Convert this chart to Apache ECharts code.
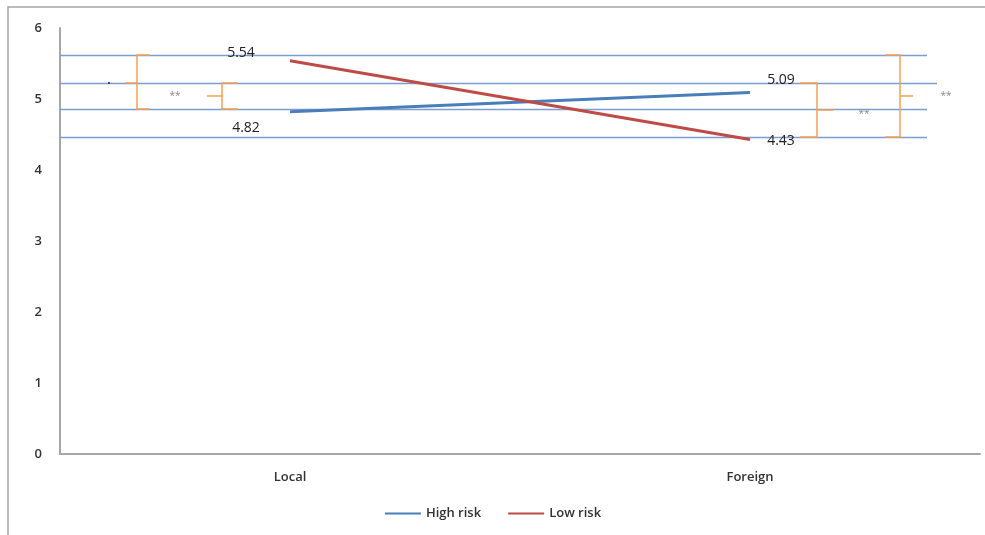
<!DOCTYPE html>
<html>
<head>
<meta charset="utf-8">
<script src="https://cdn.jsdelivr.net/npm/echarts@6/dist/echarts.min.js"></script>
<style>html,body{margin:0;padding:0;background:#fff;}#c{width:985px;height:535px;}</style>
</head>
<body>
<div id="c"></div>
<script>
var categories = ['Local', 'Foreign'];
var highRisk = [4.82, 5.09];
var lowRisk = [5.54, 4.43];
var yTicks = [0, 1, 2, 3, 4, 5, 6];
var refLines = [5.62, 5.225, 4.86, 4.465];
var labelOffsetsHigh = [[-44, 16], [31, -13]];
var labelOffsetsLow = [[-49, -8], [31, 2]];

var chart = echarts.init(document.getElementById('c'));
var font = 'Open Sans';
function mkData(vals, offs) {
  return vals.map(function (v, i) {
    return { value: v, label: { offset: offs[i] } };
  });
}
chart.setOption({
  animation: false,
  backgroundColor: '#fff',
  grid: { left: 60, right: 5, top: 28, bottom: 81, containLabel: false },
  xAxis: {
    type: 'category', data: categories, boundaryGap: true,
    axisLine: { lineStyle: { color: '#a6a6a6', width: 2 } },
    axisTick: { show: false },
    axisLabel: { color: '#333', fontFamily: font, fontSize: 13, fontWeight: 600, margin: 17 }
  },
  yAxis: {
    type: 'value', min: yTicks[0], max: yTicks[yTicks.length - 1], interval: 1,
    axisLine: { show: true, lineStyle: { color: '#a6a6a6', width: 2 } },
    axisTick: { show: false },
    splitLine: { show: false },
    axisLabel: { color: '#333', fontFamily: font, fontSize: 13, fontWeight: 600, margin: 18 }
  },
  legend: {
    bottom: 10, left: 'center', itemWidth: 36, itemHeight: 3, itemGap: 26,
    itemStyle: { opacity: 0 },
    textStyle: { color: '#333', fontFamily: font, fontSize: 13, fontWeight: 600 },
    data: ['High risk', 'Low risk']
  },
  series: [
    {
      name: 'High risk', type: 'line', data: mkData(highRisk, labelOffsetsHigh),
      symbol: 'circle', symbolSize: 0.1, color: '#4a7ebb',
      lineStyle: { width: 3, color: '#4a7ebb' },
      label: { show: true, position: 'inside', color: '#222', fontFamily: font, fontSize: 14 }
    },
    {
      name: 'Low risk', type: 'line', data: mkData(lowRisk, labelOffsetsLow),
      symbol: 'circle', symbolSize: 0.1, color: '#be4b48',
      lineStyle: { width: 3, color: '#be4b48' },
      label: { show: true, position: 'inside', color: '#222', fontFamily: font, fontSize: 14 }
    }
  ]
});

function py(v) { return chart.convertToPixel({ yAxisIndex: 0 }, v); }
var orange = '#f7a054';
var g = [];
g.push({ type: 'rect', shape: { x: 8, y: 7, width: 1000, height: 600 }, style: { fill: 'none', stroke: '#a6a6a6', lineWidth: 1.5 }, z: 1 });
var refExt = [927, 937, 927, 927];
refLines.forEach(function (v, i) {
  var y = Math.round(py(v)) + 0.5;
  g.push({ type: 'line', shape: { x1: 60, y1: y, x2: refExt[i], y2: y }, style: { stroke: '#7d9dcf', lineWidth: 1.3 }, z: 2 });
});
function brace(x, vTop, vBot, yMid, dir, arm, ptr) {
  var y1 = py(vTop), y2 = py(vBot);
  g.push({ type: 'polyline', shape: { points: [[x - dir * arm, y1], [x, y1], [x, y2], [x - dir * arm, y2]] },
    style: { fill: null, stroke: orange, lineWidth: 1.5 }, z: 3 });
  g.push({ type: 'line', shape: { x1: x, y1: yMid, x2: x + dir * ptr, y2: yMid },
    style: { stroke: orange, lineWidth: 1.5 }, z: 3 });
}
function ymid(a, b) { return (py(a) + py(b)) / 2; }
brace(137, refLines[0], refLines[2], py(refLines[1]), -1, 13, 12);
brace(222, refLines[1], refLines[2], ymid(refLines[1], refLines[2]), -1, 16, 15);
brace(817, refLines[1], refLines[3], ymid(refLines[1], refLines[3]), 1, 17, 16);
brace(900, refLines[0], refLines[3], ymid(refLines[0], refLines[3]), 1, 15, 13);
function txt(x, y, s, size, color) {
  g.push({ type: 'text', x: x, y: y, style: { text: s, fill: color, fontSize: size, fontFamily: font, align: 'center', verticalAlign: 'middle' }, z: 4 });
}
txt(109, py(refLines[1]), '•', 9, '#333');
txt(175, 96, '**', 10, '#888');
txt(864, 114, '**', 10, '#888');
txt(946, 96, '**', 10, '#888');
chart.setOption({ graphic: g });
</script>
</body>
</html>
